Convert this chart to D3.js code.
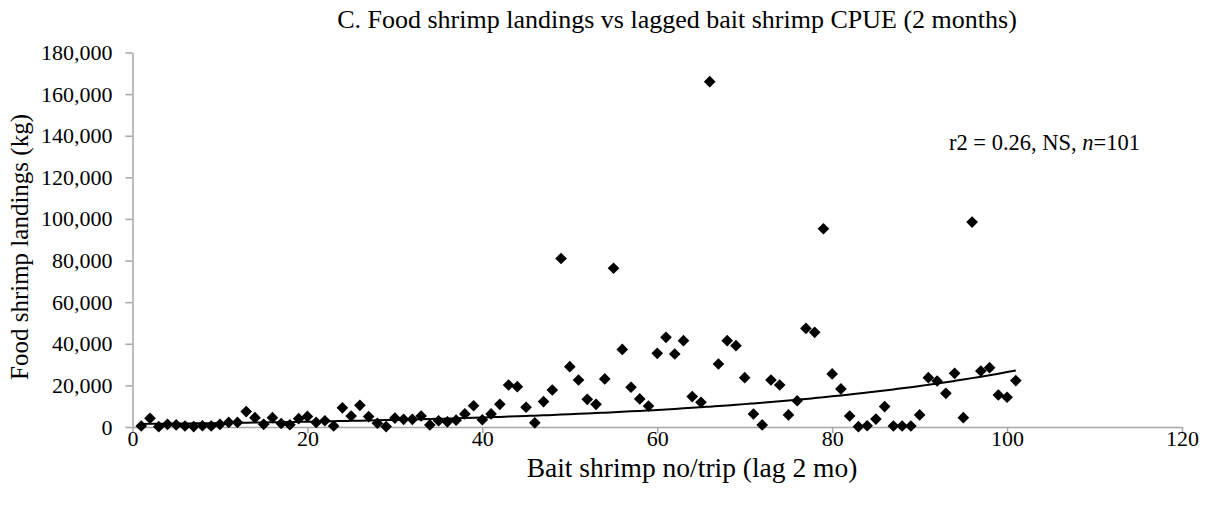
<!DOCTYPE html>
<html lang="en">
<head>
<meta charset="utf-8">
<title>Food shrimp vs bait shrimp CPUE</title>
<script src="https://d3js.org/d3.v7.min.js"></script>
<style>
    body { margin: 0; background: white; }
    text {
      font-family: 'Liberation Serif', 'Times New Roman', serif;
      fill: #000;
    }
    .axis path, .axis line {
      stroke: #a6a6a6;
      stroke-width: 1.5px;
    }
    .axis text {
      font-size: 22px;
    }
</style>
</head>
<body>
<div id="container"></div>
<script>
    var w = 1207;
    var h = 509;

    // bait shrimp CPUE (lag 2 months)
    var baitCpue = [1,2,3,4,5,6,7,8,9,10,11,12,13,14,15,16,17,18,19,20,
                    21,22,23,24,25,26,27,28,29,30,31,32,33,34,35,36,37,38,39,40,
                    41,42,43,44,45,46,47,48,49,50,51,52,53,54,55,56,57,58,59,60,
                    61,62,63,64,65,66,67,68,69,70,71,72,73,74,75,76,77,78,79,80,
                    81,82,83,84,85,86,87,88,89,90,91,92,93,94,95,96,97,98,99,100,101];

    // food shrimp landings (kg)
    var landings = [500,4200,150,1300,1000,500,200,600,500,1300,
                    2200,2200,7400,4500,1300,4500,1700,1100,4000,5100,
                    2200,3000,500,9200,5300,10400,5000,1800,200,4300,
                    3700,3700,5300,1000,3000,2500,3300,6300,10200,3500,
                    6300,10900,20200,19400,9500,2000,12200,17800,81000,29000,
                    22600,13300,10900,23100,76300,37300,19100,13500,10100,35400,
                    43100,35100,41500,14600,11900,166000,30300,41500,39100,23700,
                    6250,1000,22600,20200,5800,12600,47400,45500,95300,25500,
                    18300,5300,150,600,3800,9800,500,500,500,5800,
                    23700,22100,16200,25800,4500,98500,26900,28500,15400,14300,22300];

    // exponential trendline y = a * exp(b * x)
    var trendA = 1424;
    var trendB = 0.0292;

    var xTicks = [0, 20, 40, 60, 80, 100, 120];
    var yTicks = [0, 20000, 40000, 60000, 80000, 100000, 120000, 140000, 160000, 180000];

    var titleText = "C. Food shrimp landings vs lagged bait shrimp CPUE (2 months)";
    var xLabel = "Bait shrimp no/trip (lag 2 mo)";
    var yLabel = "Food shrimp landings (kg)";

    var svg = d3.select("div#container")
                .append("svg")
                .attr("width", w)
                .attr("height", h)
                .style("background-color", "white");

  // ---------------------------//
  //       AXIS  AND SCALE      //
  // ---------------------------//

    var x = d3.scaleLinear()
        .domain([0, 120])
        .range([132.5, 1182]);

    var y = d3.scaleLinear()
        .domain([0, 180000])
        .range([427, 52.5]);

    var fmt = d3.format(",");

    svg.append("g")
        .attr("class", "axis")
        .attr("transform", "translate(0," + y(0) + ")")
        .call(d3.axisBottom(x).tickValues(xTicks).tickSize(6).tickSizeOuter(0).tickPadding(2))
        .call(function(g) { g.selectAll("text").attr("dy", "0.5em"); });

    svg.append("g")
        .attr("class", "axis")
        .attr("transform", "translate(" + x(0) + ",0)")
        .call(d3.axisLeft(y).tickValues(yTicks).tickFormat(fmt).tickSize(7).tickSizeOuter(0).tickPadding(13));

    // title and labels
    svg.append("text")
        .attr("x", 677)
        .attr("y", 28)
        .attr("text-anchor", "middle")
        .style("font-size", "26px")
        .text(titleText);

    svg.append("text")
        .attr("x", 692)
        .attr("y", 477)
        .attr("text-anchor", "middle")
        .style("font-size", "27.5px")
        .text(xLabel);

    svg.append("text")
        .attr("transform", "translate(28,247) rotate(-90)")
        .attr("text-anchor", "middle")
        .style("font-size", "25px")
        .text(yLabel);

    var note = svg.append("text")
        .attr("x", 1140)
        .attr("y", 150)
        .attr("text-anchor", "end")
        .style("font-size", "22.5px");
    note.append("tspan").text("r2 = 0.26, NS, ");
    note.append("tspan").style("font-style", "italic").text("n");
    note.append("tspan").text("=101");

  // ---------------------------//
  //       TREND LINE           //
  // ---------------------------//

    var trend = baitCpue.map(function(v) { return [v, trendA * Math.exp(trendB * v)]; });

    svg.append("path")
        .datum(trend)
        .attr("fill", "none")
        .attr("stroke", "#000")
        .attr("stroke-width", 2)
        .attr("d", d3.line()
            .x(function(d) { return x(d[0]); })
            .y(function(d) { return y(d[1]); })
            .curve(d3.curveMonotoneX));

  // ---------------------------//
  //       POINTS               //
  // ---------------------------//

    var diamond = d3.symbol().type(d3.symbolSquare).size(68);

    svg.selectAll("path.pt")
        .data(baitCpue)
        .enter()
        .append("path")
        .attr("class", "pt")
        .attr("d", diamond)
        .attr("fill", "#000")
        .attr("transform", function(d, i) {
            return "translate(" + x(d) + "," + y(landings[i]) + ") rotate(45)";
        });
</script>
</body>
</html>
